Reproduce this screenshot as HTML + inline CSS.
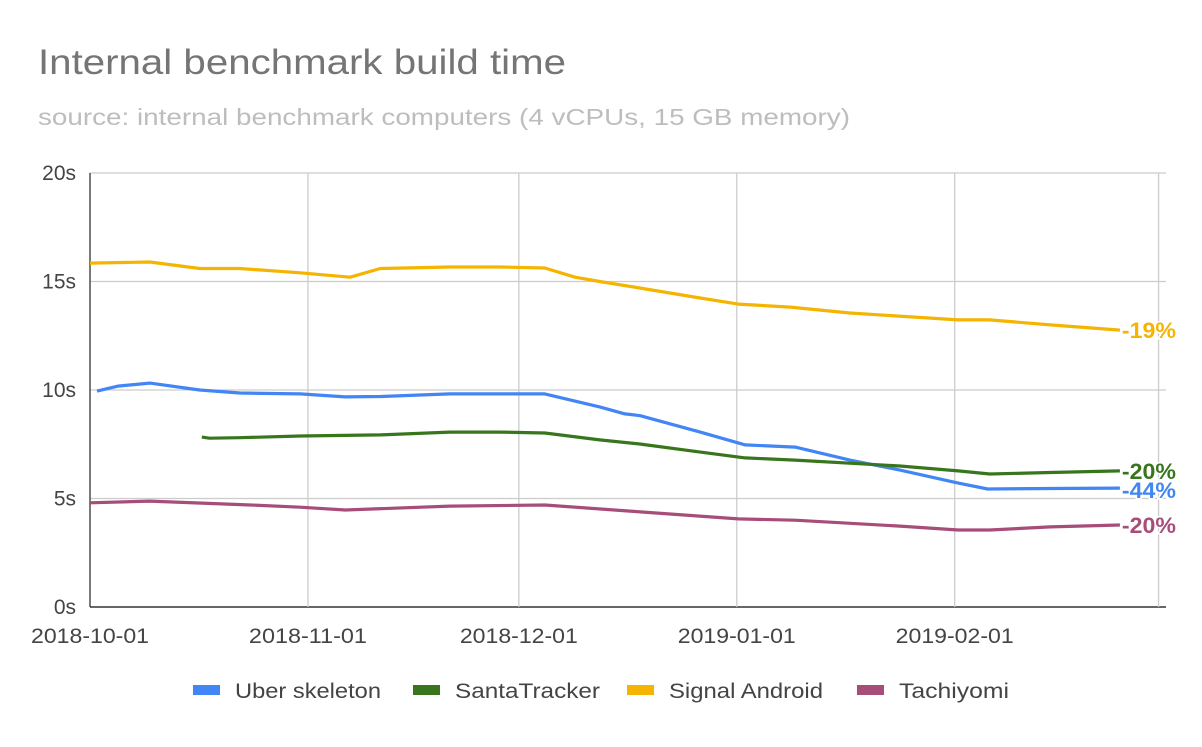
<!DOCTYPE html>
<html><head><meta charset="utf-8"><style>
body{margin:0;background:#fff;font-family:"Liberation Sans",sans-serif}
svg text{font-family:"Liberation Sans",sans-serif}
</style></head><body>
<svg id="chart" width="1202" height="742">
<text x="38" y="74" font-size="35" fill="#757575" textLength="528" lengthAdjust="spacingAndGlyphs">Internal benchmark build time</text>
<text x="38" y="125" font-size="23" fill="#bdbdbd" textLength="812" lengthAdjust="spacingAndGlyphs">source:  internal benchmark computers (4 vCPUs, 15 GB memory)</text>
<g id="grid"></g><g id="series"></g><g id="labels"></g><g id="legend"></g>
</svg>
<script>
const xTickLabels=["2018-10-01","2018-11-01","2018-12-01","2019-01-01","2019-02-01"];
const xTickDays=[0,31,61,92,123];
const yTicks=[0,5,10,15,20];
const seriesNames=["Uber skeleton","SantaTracker","Signal Android","Tachiyomi"];
const seriesColors=["#4285f4","#38761d","#f4b400","#a64d79"];
const endLabels=["-44%","-20%","-19%","-20%"];
const uberDays=[1,4,8.5,15.6,21.3,29.9,36.3,41.3,51.2,64.7,72.5,76.1,78.2,86.8,93.2,100.3,108.1,115.2,123.5,127.7,136.6,146.5];
const uberVals=[9.95,10.18,10.32,10.0,9.86,9.82,9.68,9.7,9.82,9.82,9.22,8.9,8.82,8.06,7.47,7.37,6.77,6.31,5.71,5.44,5.46,5.48];
const santaDays=[15.9,17,21.3,29.9,41.3,51.2,58.3,64.7,72.5,78.2,86.8,93.2,100.3,115.2,123.5,128,136.6,146.5];
const santaVals=[7.83,7.78,7.8,7.88,7.93,8.06,8.06,8.02,7.7,7.51,7.14,6.87,6.77,6.5,6.27,6.13,6.2,6.27];
const signalDays=[0,8.5,15.6,21.3,29.9,37,41.3,51.2,58.3,64.7,69,72.5,78.2,86.8,92.2,99.6,108.1,123.5,128,136.6,146.5];
const signalVals=[15.85,15.9,15.6,15.6,15.4,15.2,15.6,15.67,15.67,15.62,15.2,15.0,14.7,14.24,13.96,13.82,13.55,13.23,13.23,13.0,12.76];
const tachiDays=[0,8.5,22.8,29.9,36.3,51.2,64.7,76.8,92.2,100.3,115.2,123.5,128,136.6,146.5];
const tachiVals=[4.8,4.88,4.7,4.6,4.47,4.65,4.7,4.42,4.06,4.0,3.73,3.55,3.55,3.69,3.78];
const allDays=[uberDays,santaDays,signalDays,tachiDays];
const allVals=[uberVals,santaVals,signalVals,tachiVals];
const NS="http://www.w3.org/2000/svg";
const X=d=>90+d*7.03;
const Y=v=>607-v*21.7;
function mk(tag,attrs,parent){const e=document.createElementNS(NS,tag);for(const k in attrs)e.setAttribute(k,attrs[k]);parent.appendChild(e);return e;}
const grid=document.getElementById('grid');
yTicks.forEach(v=>{
  const l=mk('line',{x1:90,x2:1166,y1:Y(v),y2:Y(v),stroke:v===0?'#333':'#ccc','stroke-width':v===0?1.5:1.3},grid);
  
  
  const t=mk('text',{x:76,y:Y(v)+7,'font-size':21,fill:'#444','text-anchor':'end'},grid);
  t.textContent=v+'s';
  
  
});
xTickDays.concat([152]).forEach((d,i)=>{
  const l=mk('line',{x1:X(d),x2:X(d),y1:173,y2:607,stroke:i===0?'#333':'#ccc','stroke-width':1.3},grid);
  
  
  if(i<xTickLabels.length){
    const t=mk('text',{x:X(d)-59,y:643,'font-size':21,fill:'#444',textLength:118,lengthAdjust:'spacingAndGlyphs'},grid);
    t.textContent=xTickLabels[i];
    
    
  }
});
const sg=document.getElementById('series'),lg=document.getElementById('labels'),leg=document.getElementById('legend');
[2,0,1,3].forEach(i=>{
  const pts=allDays[i].map((d,j)=>X(d).toFixed(1)+','+Y(allVals[i][j]).toFixed(1)).join(' ');
  const p=mk('polyline',{points:pts,fill:'none',stroke:seriesColors[i],'stroke-width':3.2,'stroke-linejoin':'round'},sg);
  
  
  const n=allDays[i].length;
  const t=mk('text',{x:X(allDays[i][n-1])+2,y:Y(allVals[i][n-1])+(i===0?10:8),'font-size':22,'font-weight':'bold',fill:seriesColors[i],stroke:'#fff','stroke-width':3,'paint-order':'stroke',textLength:54,lengthAdjust:'spacingAndGlyphs'},lg);
  t.textContent=endLabels[i];
  
  
});
const legX=[193,413,627,857];
const legW=[146,145,154,110];
seriesNames.forEach((nm,i)=>{
  const r=mk('rect',{x:legX[i],y:685,width:27,height:10,fill:seriesColors[i]},leg);
  
  
  const t=mk('text',{x:legX[i]+42,y:698,'font-size':21,fill:'#444',textLength:legW[i],lengthAdjust:'spacingAndGlyphs'},leg);
  t.textContent=nm;
  
  
});
</script>
</body></html>
